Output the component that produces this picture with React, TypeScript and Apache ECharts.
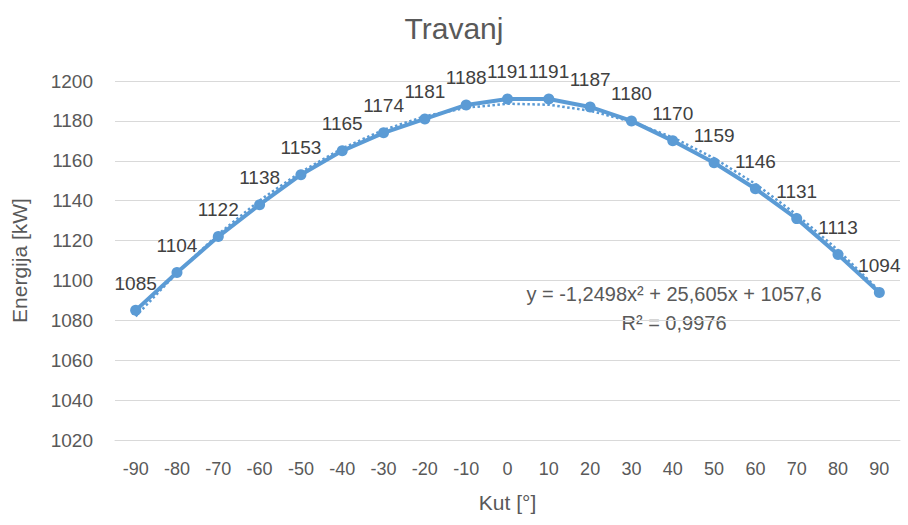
import React, { useEffect, useRef } from "react";
import * as echarts from "echarts";

const categories = ["-90", "-80", "-70", "-60", "-50", "-40", "-30", "-20", "-10", "0", "10", "20", "30", "40", "50", "60", "70", "80", "90"];
const energy = [1085, 1104, 1122, 1138, 1153, 1165, 1174, 1181, 1188, 1191, 1191, 1187, 1180, 1170, 1159, 1146, 1131, 1113, 1094];
const trend = [1082, 1103.8, 1123.2, 1140.1, 1154.4, 1166.2, 1175.5, 1182.3, 1186.6, 1188.6, 1188.1, 1185.1, 1179.6, 1171.7, 1161.3, 1148.4, 1133, 1115.2, 1094.8];
const title = "Travanj";
const xName = "Kut [°]";
const yName = "Energija [kW]";
const eqLine1 = "y = -1,2498x² + 25,605x + 1057,6";
const eqLine2 = "R² = 0,9976";

const FONT = "'Liberation Sans', 'Open Sans', sans-serif";
const BLUE = "#5B9BD5";

export default function App() {
  const ref = useRef<HTMLDivElement>(null);
  useEffect(() => {
    if (!ref.current) return;
    const chart = echarts.init(ref.current, null, { renderer: "svg" });
    chart.setOption({
      animation: false,
      backgroundColor: "#ffffff",
      title: {
        text: title,
        left: "center",
        top: 8,
        textStyle: { fontFamily: FONT, fontSize: 30, fontWeight: "normal", color: "#595959" },
      },
      grid: { left: 115, right: 8, top: 81, bottom: 85 },
      xAxis: {
        type: "category",
        data: categories,
        boundaryGap: true,
        name: xName,
        nameLocation: "middle",
        nameGap: 52,
        nameTextStyle: { fontFamily: FONT, fontSize: 21, color: "#595959" },
        axisLine: { show: true, lineStyle: { color: "#d9d9d9" } },
        axisTick: { show: false },
        axisLabel: { fontFamily: FONT, fontSize: 18, color: "#595959", margin: 20 },
      },
      yAxis: {
        type: "value",
        min: 1020,
        max: 1200,
        interval: 20,
        name: yName,
        nameLocation: "middle",
        nameGap: 85,
        nameTextStyle: { fontFamily: FONT, fontSize: 21, color: "#595959" },
        axisLine: { show: false },
        axisTick: { show: false },
        axisLabel: { fontFamily: FONT, fontSize: 19, color: "#595959", margin: 22, formatter: (v: number) => String(v) },
        splitLine: { lineStyle: { color: "#d9d9d9", width: 1 } },
      },
      series: [
        {
          type: "line",
          data: trend,
          symbol: "none",
          z: 1,
          lineStyle: { color: BLUE, width: 2.5, type: "dotted" },
          silent: true,
        },
        {
          type: "line",
          data: energy,
          z: 2,
          symbol: "circle",
          symbolSize: 11,
          itemStyle: { color: BLUE },
          lineStyle: { color: BLUE, width: 4 },
          label: {
            show: true,
            position: "top",
            distance: 12,
            fontFamily: FONT,
            fontSize: 19,
            color: "#404040",
          },
        },
      ],
      graphic: [
        {
          type: "text",
          x: 674,
          y: 294,
          style: { text: eqLine1, fontFamily: FONT, fontSize: 20, fill: "#595959", align: "center", verticalAlign: "middle" },
        },
        {
          type: "text",
          x: 674,
          y: 323,
          style: { text: eqLine2, fontFamily: FONT, fontSize: 20, fill: "#595959", align: "center", verticalAlign: "middle" },
        },
      ],
    });
    return () => chart.dispose();
  }, []);
  return <div ref={ref} style={{ position: "fixed", left: 0, top: 0, width: 908, height: 525 }} />;
}
